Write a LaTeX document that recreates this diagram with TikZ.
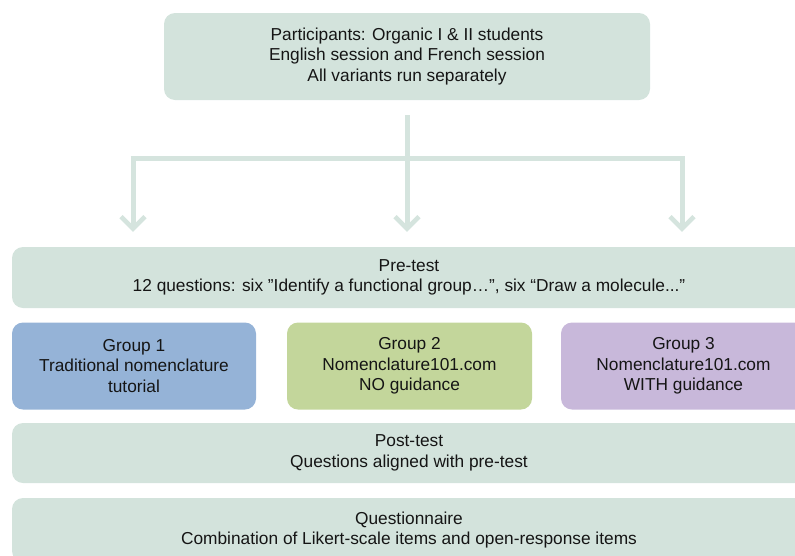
\documentclass[tikz,border=0pt]{standalone}
\usepackage{fontspec}
\setmainfont{Liberation Sans}
\usetikzlibrary{arrows.meta}
\definecolor{sage}{HTML}{D3E3DC}
\definecolor{sageline}{HTML}{D5E4DE}
\definecolor{gblue}{HTML}{95B3D7}
\definecolor{ggreen}{HTML}{C3D69B}
\definecolor{gpurple}{HTML}{C8B8DA}
\definecolor{txt}{HTML}{151515}
\begin{document}
\begin{tikzpicture}[x=1pt,y=-1pt,
  box/.style={fill=sage, rounded corners=11pt, align=center, inner sep=0pt,
    font=\fontsize{17.3}{20.5}\selectfont, text=txt},
  conn/.style={draw=sageline, line width=5pt},
  arr/.style={conn, -{Straight Barb[length=12pt,width=24pt,line width=4.5pt]}, shorten >=15pt}]
\useasboundingbox (0,0) rectangle (795,555);
\clip (0,0) rectangle (795,555);

\node[box, minimum width=486pt, minimum height=87pt] (top) at (407,56.5)
  {Participants: Organic I \& II students\\English session and French session\\All variants run separately};

\node[box, minimum width=794pt, minimum height=61pt] (pre) at (409,277.5)
  {Pre-test\\12 questions: six ”Identify a functional group…”, six “Draw a molecule..."};

\node[box, fill=gblue, minimum width=244pt, minimum height=87pt] (g1) at (134,366)
  {Group 1\\Traditional nomenclature\\tutorial};
\node[box, fill=ggreen, minimum width=245pt, minimum height=87pt] (g2) at (409.5,366)
  {Group 2\\Nomenclature101.com\\NO guidance};
\node[box, fill=gpurple, minimum width=245pt, minimum height=87pt] (g3) at (683.5,366)
  {Group 3\\Nomenclature101.com\\WITH guidance};

\node[box, minimum width=794pt, minimum height=60pt] (post) at (409,453)
  {Post-test\\Questions aligned with pre-test};

\node[box, minimum width=794pt, minimum height=64pt] (quest) at (409,530)
  {Questionnaire\\Combination of Likert-scale items and open-response items};

\coordinate (j) at (407,158);
\coordinate (jl) at (133,158);
\coordinate (jr) at (682,158);

\draw[conn, shorten <=15pt] (top.south) -- (j);
\draw[conn] ([xshift=-2.5pt]jl) -- ([xshift=2.5pt]jr);
\draw[arr] (jl) -- (pre.north -| jl);
\draw[arr] (j) -- (pre.north -| j);
\draw[arr] (jr) -- (pre.north -| jr);
\end{tikzpicture}
\end{document}
